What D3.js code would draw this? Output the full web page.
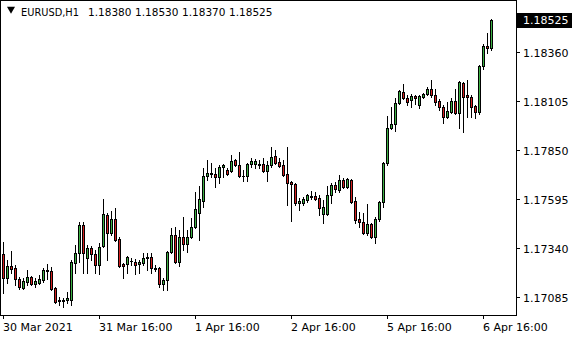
<!DOCTYPE html>
<html>
<head>
<meta charset="utf-8">
<script src="https://cdn.jsdelivr.net/npm/d3@7"></script>
<style>
  html, body { margin: 0; padding: 0; background: #fff; }
  svg { display: block; font-family: "DejaVu Sans", Verdana, sans-serif; }
</style>
</head>
<body>
<div id="chart"></div>
<script>
(function () {
  'use strict';

  var symbol = 'EURUSD,H1';

  // hourly bars, oldest first
  var open = [1.17310, 1.17185, 1.17248, 1.17238, 1.17180, 1.17133, 1.17165, 1.17191, 1.17154, 1.17159,
    1.17175, 1.17222, 1.17222, 1.17133, 1.17072, 1.17066, 1.17072, 1.17072, 1.17264, 1.17315,
    1.17461, 1.17290, 1.17341, 1.17310, 1.17253, 1.17351, 1.17512, 1.17419, 1.17492, 1.17388,
    1.17258, 1.17258, 1.17274, 1.17269, 1.17258, 1.17264, 1.17290, 1.17295, 1.17238, 1.17238,
    1.17154, 1.17175, 1.17320, 1.17409, 1.17269, 1.17398, 1.17362, 1.17398, 1.17451, 1.17523,
    1.17585, 1.17715, 1.17725, 1.17725, 1.17709, 1.17762, 1.17746, 1.17741, 1.17798, 1.17772,
    1.17715, 1.17715, 1.17777, 1.17777, 1.17777, 1.17777, 1.17741, 1.17772, 1.17819, 1.17788,
    1.17772, 1.17725, 1.17684, 1.17674, 1.17575, 1.17575, 1.17590, 1.17611, 1.17611, 1.17601,
    1.17517, 1.17517, 1.17616, 1.17669, 1.17643, 1.17694, 1.17658, 1.17694, 1.17585, 1.17492,
    1.17477, 1.17419, 1.17466, 1.17398, 1.17492, 1.17580, 1.17782, 1.17964, 1.17985, 1.18094,
    1.18151, 1.18120, 1.18109, 1.18130, 1.18083, 1.18125, 1.18141, 1.18167, 1.18135, 1.18104,
    1.18073, 1.18021, 1.18048, 1.18104, 1.18042, 1.18198, 1.18135, 1.18125, 1.18078, 1.18048,
    1.18286, 1.18390, 1.18380];
  var high = [1.17372, 1.17279, 1.17325, 1.17253, 1.17191, 1.17185, 1.17227, 1.17196, 1.17185, 1.17201,
    1.17238, 1.17258, 1.17243, 1.17138, 1.17087, 1.17082, 1.17112, 1.17279, 1.17357, 1.17477,
    1.17477, 1.17357, 1.17351, 1.17330, 1.17367, 1.17596, 1.17523, 1.17533, 1.17549, 1.17398,
    1.17264, 1.17300, 1.17290, 1.17285, 1.17279, 1.17315, 1.17315, 1.17315, 1.17253, 1.17243,
    1.17185, 1.17325, 1.17445, 1.17451, 1.17435, 1.17502, 1.17435, 1.17496, 1.17632, 1.17663,
    1.17756, 1.17798, 1.17782, 1.17756, 1.17772, 1.17777, 1.17756, 1.17824, 1.17803, 1.17840,
    1.17746, 1.17782, 1.17809, 1.17803, 1.17798, 1.17809, 1.17793, 1.17866, 1.17850, 1.17809,
    1.17798, 1.17866, 1.17689, 1.17679, 1.17601, 1.17606, 1.17622, 1.17637, 1.17632, 1.17616,
    1.17590, 1.17663, 1.17679, 1.17684, 1.17720, 1.17704, 1.17704, 1.17699, 1.17606, 1.17528,
    1.17523, 1.17570, 1.17471, 1.17502, 1.17585, 1.17788, 1.18027, 1.18073, 1.18120, 1.18161,
    1.18193, 1.18135, 1.18141, 1.18135, 1.18135, 1.18146, 1.18177, 1.18214, 1.18167, 1.18114,
    1.18083, 1.18099, 1.18120, 1.18167, 1.18208, 1.18203, 1.18214, 1.18135, 1.18083, 1.18291,
    1.18400, 1.18457, 1.18530];
  var low = [1.17108, 1.17159, 1.17212, 1.17149, 1.17128, 1.17128, 1.17149, 1.17149, 1.17138, 1.17154,
    1.17165, 1.17180, 1.17123, 1.17056, 1.17046, 1.17035, 1.17056, 1.17046, 1.17212, 1.17269,
    1.17212, 1.17212, 1.17279, 1.17212, 1.17206, 1.17346, 1.17279, 1.17409, 1.17377, 1.17243,
    1.17185, 1.17212, 1.17253, 1.17206, 1.17212, 1.17253, 1.17227, 1.17212, 1.17222, 1.17138,
    1.17123, 1.17123, 1.17315, 1.17264, 1.17248, 1.17330, 1.17320, 1.17393, 1.17445, 1.17383,
    1.17554, 1.17694, 1.17709, 1.17658, 1.17679, 1.17709, 1.17720, 1.17735, 1.17767, 1.17709,
    1.17689, 1.17689, 1.17762, 1.17756, 1.17756, 1.17735, 1.17689, 1.17762, 1.17777, 1.17762,
    1.17715, 1.17564, 1.17482, 1.17564, 1.17538, 1.17564, 1.17580, 1.17596, 1.17590, 1.17512,
    1.17471, 1.17512, 1.17575, 1.17632, 1.17632, 1.17653, 1.17653, 1.17575, 1.17471, 1.17451,
    1.17414, 1.17409, 1.17393, 1.17367, 1.17482, 1.17554, 1.17772, 1.17959, 1.17948, 1.18088,
    1.18114, 1.18083, 1.18073, 1.18088, 1.18068, 1.18120, 1.18135, 1.18125, 1.18083, 1.18058,
    1.17990, 1.18016, 1.18042, 1.18037, 1.17964, 1.17943, 1.18021, 1.18021, 1.18016, 1.18037,
    1.18270, 1.18353, 1.18370];
  var close = [1.17185, 1.17248, 1.17232, 1.17180, 1.17138, 1.17170, 1.17191, 1.17154, 1.17170, 1.17180,
    1.17227, 1.17227, 1.17128, 1.17061, 1.17066, 1.17072, 1.17082, 1.17269, 1.17315, 1.17461,
    1.17315, 1.17341, 1.17310, 1.17253, 1.17346, 1.17517, 1.17419, 1.17492, 1.17383, 1.17248,
    1.17248, 1.17295, 1.17276, 1.17253, 1.17269, 1.17290, 1.17295, 1.17238, 1.17232, 1.17154,
    1.17175, 1.17320, 1.17409, 1.17269, 1.17398, 1.17362, 1.17398, 1.17451, 1.17543, 1.17596,
    1.17715, 1.17730, 1.17730, 1.17709, 1.17762, 1.17772, 1.17725, 1.17793, 1.17772, 1.17715,
    1.17717, 1.17777, 1.17793, 1.17793, 1.17774, 1.17741, 1.17772, 1.17814, 1.17782, 1.17767,
    1.17720, 1.17679, 1.17674, 1.17575, 1.17585, 1.17596, 1.17616, 1.17606, 1.17596, 1.17549,
    1.17554, 1.17616, 1.17669, 1.17648, 1.17694, 1.17658, 1.17699, 1.17580, 1.17487, 1.17477,
    1.17419, 1.17466, 1.17398, 1.17492, 1.17580, 1.17782, 1.17964, 1.17985, 1.18094, 1.18156,
    1.18120, 1.18099, 1.18130, 1.18120, 1.18130, 1.18141, 1.18167, 1.18135, 1.18099, 1.18073,
    1.18021, 1.18053, 1.18104, 1.18042, 1.18203, 1.18125, 1.18125, 1.18073, 1.18048, 1.18286,
    1.18390, 1.18380, 1.18525];

  var priceTicks = [1.17085, 1.17340, 1.17595, 1.17850, 1.18105, 1.18360];
  var timeTickBars = [0, 24, 48, 72, 96, 120];
  var timeLabels = ['30 Mar 2021', '31 Mar 16:00', '1 Apr 16:00', '2 Apr 16:00', '5 Apr 16:00', '6 Apr 16:00'];

  var width = 580, height = 340;
  var plotW = 516, plotH = 315;
  var upColor = '#3cb043', downColor = '#d42020';
  var fmt = d3.format('.5f');
  var last = close.length - 1;

  var x = d3.scaleLinear().domain([0, last]).rangeRound([3, 491]);
  var y = d3.scaleLinear().domain([1.169937, 1.186289]).rangeRound([plotH, 0]);

  var svg = d3.select('#chart').append('svg').attr('width', width).attr('height', height);

  // candles
  var g = svg.append('g');
  d3.range(close.length).forEach(function (i) {
    var cx = x(i) + 0.5;
    var o = open[i], c = close[i];
    g.append('line').attr('x1', cx).attr('x2', cx).attr('y1', y(high[i])).attr('y2', y(low[i]) + 1)
      .attr('stroke', '#000').attr('stroke-width', 1);
    var top = y(Math.max(o, c)), bot = y(Math.min(o, c));
    if (bot - top < 1) {
      g.append('line').attr('x1', cx - 1.5).attr('x2', cx + 1.5).attr('y1', top + 0.5).attr('y2', top + 0.5)
        .attr('stroke', '#000').attr('stroke-width', 1);
    } else {
      g.append('rect').attr('x', cx - 1).attr('y', top + 0.5).attr('width', 2).attr('height', bot - top)
        .attr('fill', c >= o ? upColor : downColor).attr('stroke', '#000').attr('stroke-width', 1);
    }
  });

  // frame
  svg.append('rect').attr('x', 0.5).attr('y', 0.5).attr('width', plotW).attr('height', plotH)
    .attr('fill', 'none').attr('stroke', '#000').attr('stroke-width', 1);

  // price axis
  var yAxis = svg.append('g').attr('transform', 'translate(' + plotW + ',0)')
    .call(d3.axisRight(y).tickValues(priceTicks).tickSize(4).tickPadding(3).tickFormat(fmt));
  yAxis.attr('font-family', null).attr('font-size', 11);
  yAxis.select('.domain').remove();
  yAxis.selectAll('.tick line').attr('stroke', '#000');
  yAxis.selectAll('.tick text').attr('fill', '#000').attr('dy', '0.4em');

  // time axis
  var xAxis = svg.append('g').attr('transform', 'translate(0,' + plotH + ')')
    .call(d3.axisBottom(x).tickValues(timeTickBars).tickSize(4).tickFormat(function (d, k) { return timeLabels[k]; }));
  xAxis.attr('font-family', null).attr('font-size', 11);
  xAxis.select('.domain').remove();
  xAxis.selectAll('.tick line').attr('stroke', '#000');
  xAxis.selectAll('.tick text').attr('fill', '#000').attr('text-anchor', 'start')
    .attr('x', -0.5).attr('y', 16).attr('dy', null);

  // current price box
  var yc = y(close[last]);
  svg.append('rect').attr('x', plotW + 1).attr('y', yc - 7).attr('width', 55).attr('height', 15).attr('fill', '#000');
  svg.append('text').attr('x', plotW + 7).attr('y', yc + 4).attr('font-size', 11).attr('fill', '#fff').text(fmt(close[last]));

  // header
  svg.append('path').attr('d', d3.symbol(d3.symbolTriangle, 28)())
    .attr('transform', 'translate(11,9) rotate(180)').attr('fill', '#000');
  svg.append('text').attr('x', 21).attr('y', 16).attr('font-size', 10.5).attr('fill', '#000')
    .attr('textLength', 58).attr('lengthAdjust', 'spacingAndGlyphs').text(symbol);
  var ohlc = [open[last], high[last], low[last], close[last]];
  svg.selectAll('text.ohlc').data(ohlc).enter().append('text').attr('class', 'ohlc')
    .attr('x', function (d, k) { return 88 + k * 47; }).attr('y', 16)
    .attr('font-size', 10.5).attr('fill', '#000').text(fmt);
})();
</script>
</body>
</html>
